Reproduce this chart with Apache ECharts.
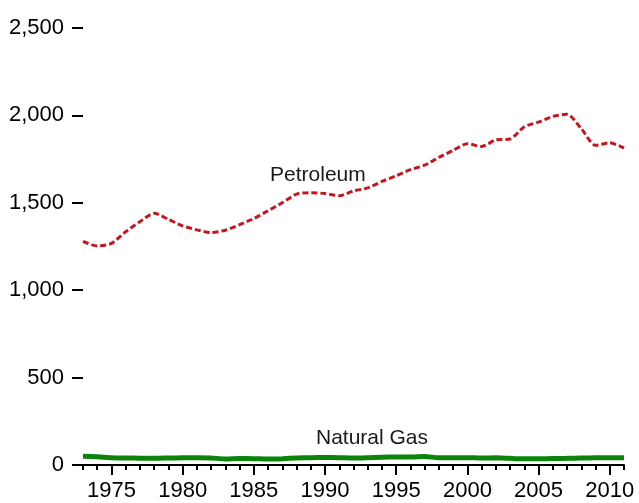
<!DOCTYPE html>
<html>
<head>
<meta charset="utf-8">
<script src="https://cdn.jsdelivr.net/npm/echarts@6/dist/echarts.min.js"></script>
<style>
html,body{margin:0;padding:0;background:#fff;}
#chart{width:639px;height:503px;}
</style>
</head>
<body>
<div id="chart"></div>
<script>
var years = [];
for (var y = 1973; y <= 2011; y++) years.push(y);
var petroleum = [1280,1253,1268,1335,1392,1440,1405,1368,1345,1330,1343,1375,1410,1455,1500,1550,1558,1553,1540,1568,1585,1622,1655,1690,1715,1760,1800,1838,1822,1860,1865,1935,1962,1994,2006,1924,1829,1843,1813];
var naturalGas = [50,47,42,40,39,38,40,42,42,40,35,37,36,34,36,40,42,43,42,40,42,45,46,46,48,42,42,42,40,41,38,36,36,37,38,40,41,41,41];
var majorYears = [1975,1980,1985,1990,1995,2000,2005,2010];

function pairs(vals){ return years.map(function(yr,i){ return [yr, vals[i]]; }); }

var chart = echarts.init(document.getElementById('chart'), null, {renderer:'canvas'});
var fontFam = '"Liberation Sans", Arial, sans-serif';
chart.setOption({
  animation:false,
  grid:{left:83, right:15, top:28, bottom:38},
  xAxis:[
    {type:'value', min:1973, max:2011, interval:1,
     axisLine:{show:true, lineStyle:{color:'#000', width:2}},
     axisTick:{show:true, length:5, lineStyle:{color:'#000', width:2}},
     axisLabel:{show:false}, splitLine:{show:false}},
    {type:'value', min:1973, max:2011, position:'bottom',
     axisLine:{show:false},
     axisTick:{show:true, length:10, customValues:majorYears, lineStyle:{color:'#000', width:2}},
     axisLabel:{show:true, customValues:majorYears, margin:15, fontSize:22, color:'#000', fontFamily:fontFam, formatter:function(v){return String(v);}},
     splitLine:{show:false}}
  ],
  yAxis:{type:'value', min:0, max:2500, interval:500,
     axisLine:{show:false},
     axisTick:{show:true, length:11, lineStyle:{color:'#000', width:2}},
     axisLabel:{margin:19, fontSize:22, color:'#000', fontFamily:fontFam,
       formatter:function(v){ return v.toString().replace(/\B(?=(\d{3})+(?!\d))/g, ','); }},
     splitLine:{show:false}},
  series:[
    {type:'line', name:'Petroleum', xAxisIndex:0, data:pairs(petroleum), smooth:0.25, symbol:'none',
     lineStyle:{color:'#c4161c', width:3, type:[6,3]},
     markPoint:{symbol:'circle', symbolSize:0, silent:true,
       data:[{coord:[1989.5,1657], label:{show:true, position:'inside', formatter:'Petroleum', fontSize:21, color:'#1a1a1a', fontFamily:fontFam}}]}},
    {type:'line', name:'Natural Gas', xAxisIndex:0, data:pairs(naturalGas), smooth:0.25, symbol:'none',
     lineStyle:{color:'#0c840c', width:5},
     markPoint:{symbol:'circle', symbolSize:0, silent:true,
       data:[{coord:[1993.3,154], label:{show:true, position:'inside', formatter:'Natural Gas', fontSize:21, color:'#1a1a1a', fontFamily:fontFam}}]}}
  ]
});
</script>
</body>
</html>
